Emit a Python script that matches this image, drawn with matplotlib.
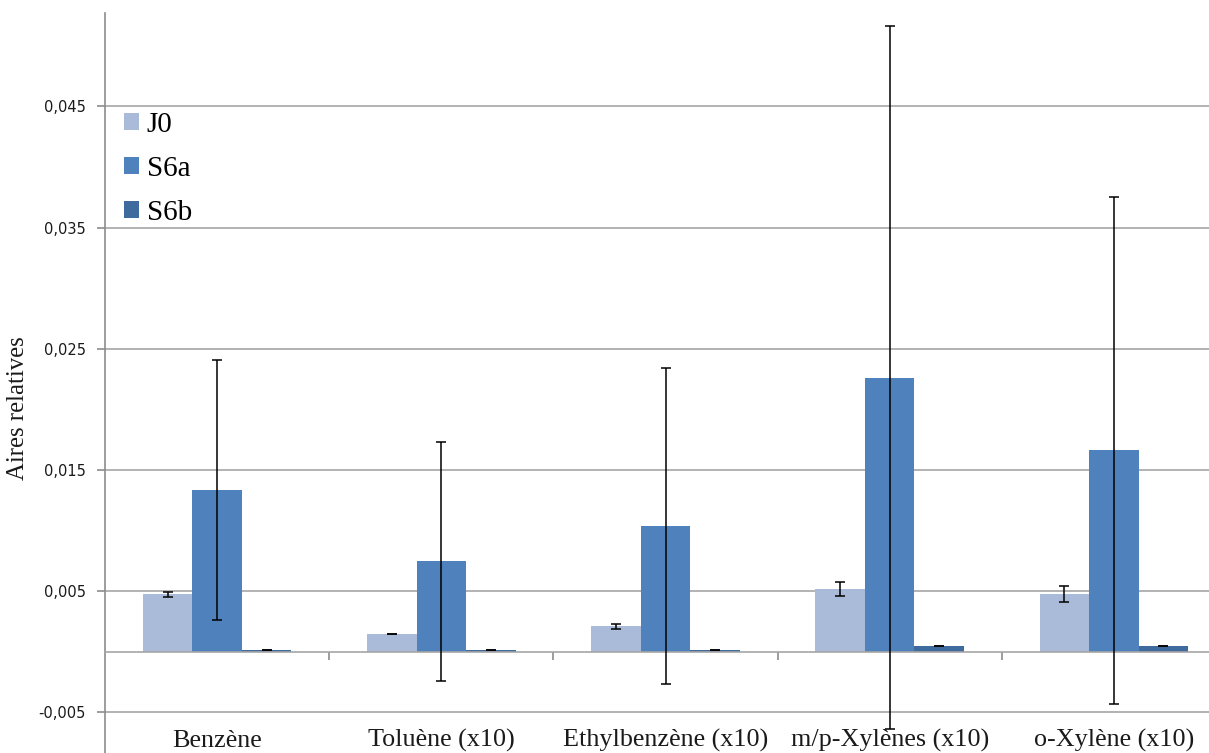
import matplotlib
matplotlib.use("Agg")
import matplotlib.pyplot as plt
import matplotlib.transforms as mtransforms
import numpy as np

categories = ["Benzène", "Toluène (x10)", "Ethylbenzène (x10)",
              "m/p-Xylènes (x10)", "o-Xylène (x10)"]
series_names = ["J0", "S6a", "S6b"]
j0_vals = [0.00474, 0.00146, 0.00210, 0.00515, 0.00474]
j0_err = [0.00022, 0.00003, 0.00019, 0.00058, 0.00066]
s6a_vals = [0.01335, 0.00745, 0.01037, 0.02262, 0.01662]
s6a_err = [0.01072, 0.00985, 0.01304, 0.02900, 0.02090]
s6b_vals = [0.00012, 0.00012, 0.00012, 0.00045, 0.00045]
s6b_err = [0.00002, 0.00002, 0.00002, 0.00002, 0.00002]
y_ticks = [-0.005, 0.005, 0.015, 0.025, 0.035, 0.045]
y_tick_labels = ["-0,005", "0,005", "0,015", "0,025", "0,035", "0,045"]

colors = ["#AABBD9", "#4F81BD", "#3F6A9E"]
values = [j0_vals, s6a_vals, s6b_vals]
errors = [j0_err, s6a_err, s6b_err]

W, H = 1209, 753
fig = plt.figure(figsize=(W / 100, H / 100), dpi=100)
ax = fig.add_axes([105 / W, 0, 1121 / W, 740 / H])

x = np.arange(len(categories))
bw = 0.2208
for i, (vals, errs, c, name) in enumerate(zip(values, errors, colors, series_names)):
    ax.bar(x + (i - 1) * bw, vals, width=bw, color=c, label=name, zorder=2)
    ax.errorbar(x + (i - 1) * bw, vals, yerr=errs, fmt="none", ecolor="black",
                elinewidth=1.1, capsize=3.5, capthick=1.1, zorder=3)

ax.set_xlim(-0.5, len(categories) - 0.5)
ax.set_ylim(-0.008358, 0.052698)

ax.set_yticks(y_ticks)
ax.set_yticklabels(y_tick_labels, fontsize=10.5, color="#1a1a1a",
                   family="DejaVu Sans")
ax.tick_params(axis="y", direction="out", length=6, width=1.2, color="#8c8c8c", pad=8)
ax.yaxis.grid(True, color="#a6a6a6", linewidth=1.2, zorder=0)
ax.set_axisbelow(True)

ax.set_xticks(x[:-1] + 0.5)
ax.set_xticklabels([])
ax.tick_params(axis="x", direction="out", length=6, width=1.2, color="#8c8c8c")

for s in ["top", "right"]:
    ax.spines[s].set_visible(False)
ax.spines["bottom"].set_position(("data", 0))
ax.spines["bottom"].set_color("#a6a6a6")
ax.spines["bottom"].set_linewidth(1.2)
ax.spines["left"].set_color("#8c8c8c")
ax.spines["left"].set_linewidth(1.2)

trans = mtransforms.blended_transform_factory(ax.transData, ax.transAxes)
for xi, cat in zip(x, categories):
    ax.text(xi, 6 / 740, cat, transform=trans, ha="center", va="baseline",
            fontsize=18.8, family="Liberation Serif", color="#1a1a1a")

fig.text(18 / W, 1 - 408 / H, "Aires relatives", rotation=90, ha="center",
         va="center", fontsize=17.8, family="Liberation Serif", color="#1a1a1a")

leg = ax.legend(loc="upper left", bbox_to_anchor=(124 / W, 1 - 112 / H),
                bbox_transform=fig.transFigure, frameon=False,
                prop={"family": "Liberation Serif", "size": 21},
                handlelength=0.51, handleheight=0.51, handletextpad=0.27,
                labelspacing=0.62, borderpad=0, borderaxespad=0)

fig.savefig("out.png", dpi=100)
